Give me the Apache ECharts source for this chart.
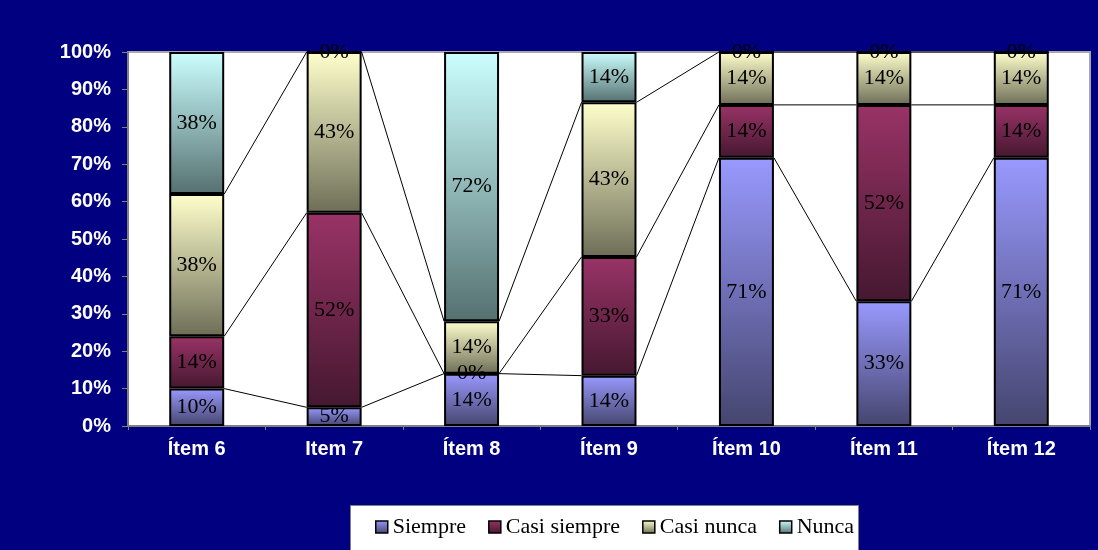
<!DOCTYPE html>
<html>
<head>
<meta charset="utf-8">
<script src="https://cdn.jsdelivr.net/npm/echarts@6/dist/echarts.min.js"></script>
<style>html,body{margin:0;padding:0;background:#000080;}#c{width:1098px;height:550px;}</style>
</head>
<body>
<div id="c"></div>
<script>
const categories = ['Ítem 6', 'Item 7', 'Ítem 8', 'Ítem 9', 'Ítem 10', 'Ítem 11', 'Ítem 12'];
const seriesNames = ['Siempre', 'Casi siempre', 'Casi nunca', 'Nunca'];
const siempre     = [10, 5, 14, 14, 71, 33, 71];
const casiSiempre = [14, 52, 0, 33, 14, 52, 14];
const casiNunca   = [38, 43, 14, 43, 14, 14, 14];
const nunca       = [38, 0, 72, 14, 0, 0, 0];
const yTicks = [0, 10, 20, 30, 40, 50, 60, 70, 80, 90, 100];

const raw = [siempre, casiSiempre, casiNunca, nunca];
const totals = categories.map((_, i) => raw.reduce((s, a) => s + a[i], 0));
const pct = raw.map(a => a.map((v, i) => v / totals[i] * 100));
const cum = [];
pct.forEach((a, k) => cum.push(a.map((v, i) => (k ? cum[k - 1][i] : 0) + v)));

const grads = [
  ['#9999ff', '#45456e'],
  ['#993366', '#451830'],
  ['#ffffcc', '#6e6e58'],
  ['#ccffff', '#557070']
];
function grad(c) {
  return new echarts.graphic.LinearGradient(0, 0, 0, 1, [{offset: 0, color: c[0]}, {offset: 1, color: c[1]}]);
}
const BAR = 0.4;

const chart = echarts.init(document.getElementById('c'));
const series = seriesNames.map((name, k) => ({
  name: name,
  type: 'bar',
  stack: 'total',
  barWidth: (BAR * 100) + '%',
  data: pct[k],
  itemStyle: {color: grad(grads[k]), borderColor: '#000', borderWidth: 2},
  label: {
    show: true,
    position: 'inside',
    formatter: p => raw[k][p.dataIndex] + '%',
    fontFamily: 'Liberation Serif',
    fontSize: 22,
    color: '#000'
  },
  emphasis: {disabled: true}
}));
series.push({
  type: 'custom',
  name: 'lines',
  silent: true,
  z: 1,
  data: categories.slice(0, -1).map((_, i) => [i, 0]),
  renderItem: function (params, api) {
    const i = api.value(0);
    const bw = api.size([1, 0])[0] * BAR / 2;
    const children = [];
    for (let k = 0; k < 3; k++) {
      const a = api.coord([i, cum[k][i]]);
      const b = api.coord([i + 1, cum[k][i + 1]]);
      children.push({
        type: 'line',
        shape: {x1: a[0] + bw, y1: a[1], x2: b[0] - bw, y2: b[1]},
        style: {stroke: '#000', lineWidth: 1}
      });
    }
    return {type: 'group', children: children};
  }
});

chart.setOption({
  backgroundColor: '#000080',
  animation: false,
  grid: {left: 128, right: 8, top: 52, bottom: 124, show: true, backgroundColor: '#fff', borderColor: '#a8a8a8', borderWidth: 2},
  xAxis: {
    type: 'category',
    data: categories,
    axisLine: {lineStyle: {color: '#808080', width: 2}},
    axisTick: {show: true, length: 4, lineStyle: {color: '#808080'}},
    axisLabel: {color: '#fff', fontFamily: 'Liberation Sans', fontWeight: 'bold', fontSize: 20, margin: 13}
  },
  yAxis: {
    type: 'value',
    min: 0, max: 100, interval: 10,
    axisLine: {show: true, lineStyle: {color: '#808080', width: 2}},
    axisTick: {show: true, length: 6, lineStyle: {color: '#808080'}},
    splitLine: {show: false},
    axisLabel: {color: '#fff', fontFamily: 'Liberation Sans', fontWeight: 'bold', fontSize: 20, margin: 17,
      formatter: v => (yTicks.indexOf(v) >= 0 ? v + '%' : '')}
  },
  legend: {
    data: seriesNames,
    left: 370, top: 511,
    itemWidth: 12, itemHeight: 12, itemGap: 22,
    icon: 'rect',
    itemStyle: {borderColor: '#000', borderWidth: 1.5},
    textStyle: {fontFamily: 'Liberation Serif', fontSize: 22, color: '#000'},
    selectedMode: false
  },
  graphic: [{
    type: 'rect', left: 350, top: 505, z: -1,
    shape: {width: 508, height: 50},
    style: {fill: '#fff', stroke: '#808080', lineWidth: 1}
  }],
  series: series
});
</script>
</body>
</html>
